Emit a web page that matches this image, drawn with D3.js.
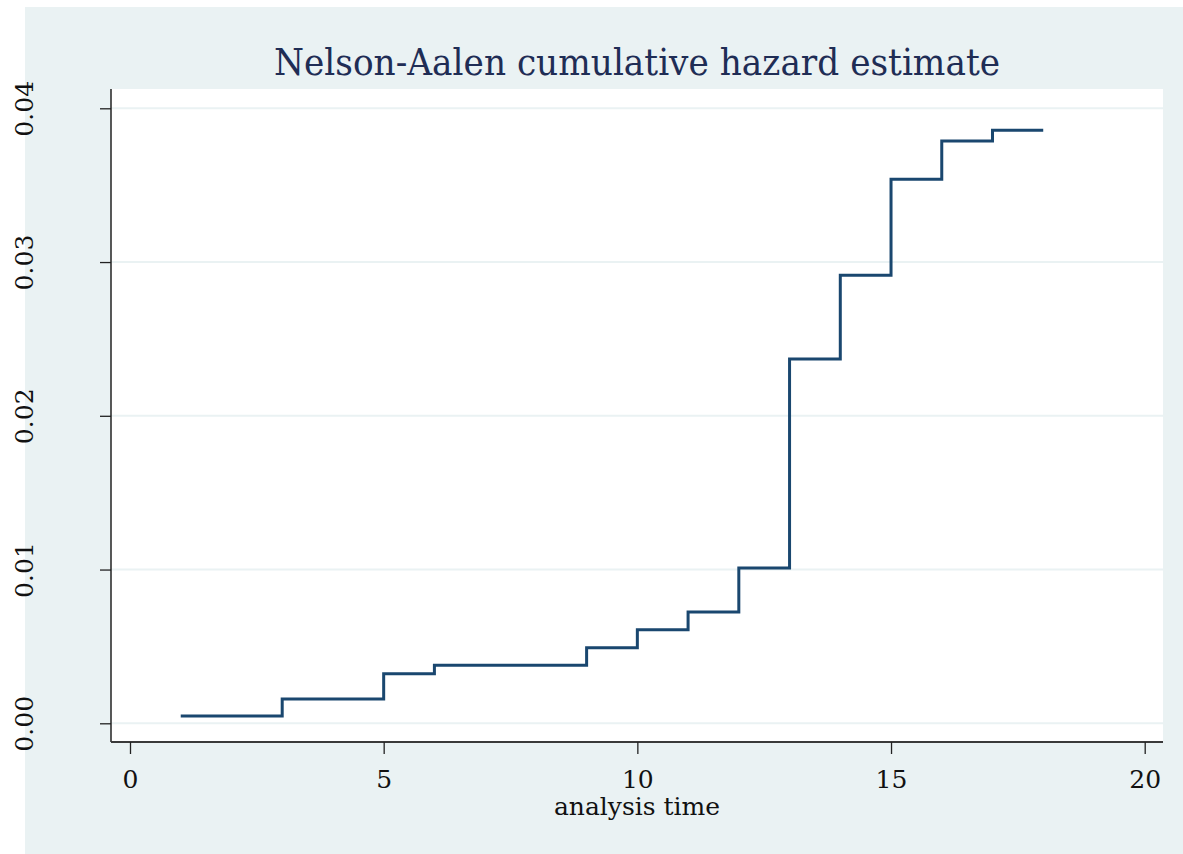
<!DOCTYPE html>
<html>
<head>
<meta charset="utf-8">
<script src="https://cdn.jsdelivr.net/npm/d3@7"></script>
<style>
  html, body { margin: 0; padding: 0; background: #fff; }
  svg { display: block; font-family: "DejaVu Serif", serif; }
</style>
</head>
<body>
<svg width="1183" height="854"></svg>
<script>
// step estimates
const times = [1, 3, 5, 6, 9, 10, 11, 12, 13, 14, 15, 16, 17, 18];
const hazard = [0.00047, 0.00158, 0.00323, 0.00377, 0.00492, 0.00608, 0.00724,
                0.0101, 0.02369, 0.02914, 0.03538, 0.03787, 0.03857, 0.03857];

const xTicks = [0, 5, 10, 15, 20];
const yTicks = [0, 0.01, 0.02, 0.03, 0.04];

const title = 'Nelson-Aalen cumulative hazard estimate';
const xTitle = 'analysis time';

const svg = d3.select('svg');

// outer graph region
svg.append('rect')
    .attr('x', 25).attr('y', 7)
    .attr('width', 1158).attr('height', 847)
    .attr('fill', '#eaf2f3');

const plot = { left: 111, right: 1163, top: 89, bottom: 742 };

svg.append('rect')
    .attr('x', plot.left).attr('y', plot.top)
    .attr('width', plot.right - plot.left).attr('height', plot.bottom - plot.top)
    .attr('fill', '#fff');

const x = d3.scaleLinear().domain([0, 20]).range([130, 1144.7]);
const y = d3.scaleLinear().domain([0, 0.04]).range([723.3, 108.3]);

// grid
svg.append('g')
    .selectAll('line')
    .data(yTicks)
    .enter().append('line')
    .attr('x1', plot.left).attr('x2', plot.right)
    .attr('y1', d => y(d)).attr('y2', d => y(d))
    .attr('stroke', '#eaf2f3')
    .attr('stroke-width', 2);

// y axis
const yAxis = svg.append('g')
    .attr('transform', 'translate(' + plot.left + ',0)')
    .call(d3.axisLeft(y).tickValues(yTicks).tickFormat(d3.format('.2f')).tickSize(11).tickSizeOuter(0));
yAxis.select('.domain').attr('d', 'M0,' + plot.top + 'V' + plot.bottom)
    .attr('stroke', '#222').attr('stroke-width', 1.5);
yAxis.selectAll('.tick line').attr('stroke', '#222').attr('stroke-width', 1.3);
yAxis.selectAll('.tick text')
    .attr('x', null).attr('dy', null)
    .attr('text-anchor', 'middle')
    .attr('transform', 'translate(-78,0) rotate(-90)')
    .attr('font-size', 25)
    .attr('font-family', '"DejaVu Serif", serif')
    .attr('fill', '#111');

// x axis
const xAxis = svg.append('g')
    .attr('transform', 'translate(0,' + plot.bottom + ')')
    .call(d3.axisBottom(x).tickValues(xTicks).tickSize(12).tickSizeOuter(0));
xAxis.select('.domain').attr('d', 'M' + plot.left + ',0H' + plot.right)
    .attr('stroke', '#3a3a3a').attr('stroke-width', 2);
xAxis.selectAll('.tick line').attr('stroke', '#222').attr('stroke-width', 1.3);
xAxis.selectAll('.tick text')
    .attr('y', 46).attr('dy', null)
    .attr('font-size', 25)
    .attr('font-family', '"DejaVu Serif", serif')
    .attr('fill', '#111');

// axis title
svg.append('text')
    .attr('x', (plot.left + plot.right) / 2)
    .attr('y', 815)
    .attr('text-anchor', 'middle')
    .attr('font-size', 25)
    .attr('fill', '#111')
    .text(xTitle);

// chart title
svg.append('text')
    .attr('x', (plot.left + plot.right) / 2)
    .attr('y', 75)
    .attr('text-anchor', 'middle')
    .attr('font-size', 37)
    .attr('textLength', 726)
    .attr('lengthAdjust', 'spacingAndGlyphs')
    .attr('fill', '#1f2d55')
    .text(title);

// the step line
const pts = times.map((t, i) => ({ t: t, h: hazard[i] }));
const line = d3.line()
    .curve(d3.curveStepAfter)
    .x(d => x(d.t))
    .y(d => y(d.h));

svg.append('path')
    .datum(pts)
    .attr('d', line)
    .attr('fill', 'none')
    .attr('stroke', '#1a476f')
    .attr('stroke-width', 3);
</script>
</body>
</html>
